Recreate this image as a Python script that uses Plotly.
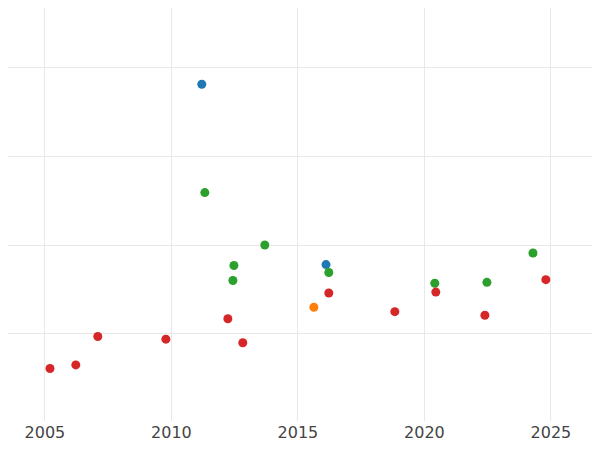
import plotly.graph_objects as go

blue_x = [2011.20, 2016.11]
blue_y = [3.81, 1.78]
green_x = [2011.32, 2013.69, 2012.47, 2012.43, 2016.22, 2020.41, 2022.47, 2024.29]
green_y = [2.59, 2.00, 1.77, 1.60, 1.69, 1.57, 1.58, 1.91]
orange_x = [2015.63]
orange_y = [1.30]
red_x = [2005.20, 2006.22, 2007.09, 2009.78, 2012.23, 2012.82, 2016.22, 2018.83, 2020.45, 2022.39, 2024.80]
red_y = [0.61, 0.65, 0.97, 0.94, 1.17, 0.90, 1.46, 1.25, 1.47, 1.21, 1.61]

fig = go.Figure()
for xs, ys, c in [(blue_x, blue_y, "#1f77b4"), (green_x, green_y, "#2ca02c"),
                  (orange_x, orange_y, "#ff7f0e"), (red_x, red_y, "#d62728")]:
    fig.add_trace(go.Scatter(x=xs, y=ys, mode="markers",
                             marker=dict(color=c, size=9), showlegend=False))

fig.update_layout(
    width=592, height=434, margin=dict(l=0, r=0, t=0, b=17),
    plot_bgcolor="white", paper_bgcolor="white",
    font=dict(family="DejaVu Sans", size=16, color="#444"),
    xaxis=dict(range=[2003.54, 2026.94], tickvals=[2005, 2010, 2015, 2020, 2025],
               showgrid=True, gridcolor="#e8e8e8", zeroline=False, ticks=""),
    yaxis=dict(range=[0.019, 4.668], tickvals=[1, 2, 3, 4], showticklabels=False,
               showgrid=True, gridcolor="#e8e8e8", zeroline=False),
)
fig.write_html("out.html")
